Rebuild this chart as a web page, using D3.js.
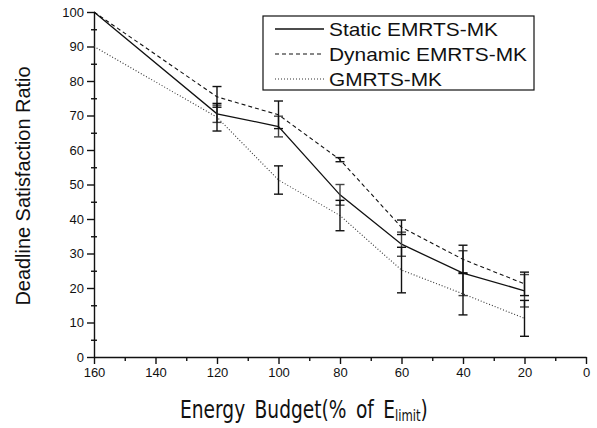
<!DOCTYPE html>
<html>
<head>
<meta charset="utf-8">
<script src="https://cdn.jsdelivr.net/npm/d3@7"></script>
<style>
  body { margin: 0; background: #fff; }
  svg { display: block; }
  .axis text { font-family: "Liberation Sans", Arial, sans-serif; font-size: 13px; fill: #111; }
  .axis path, .axis line { stroke: #111; stroke-width: 1.4px; }
</style>
</head>
<body>
<div id="chart"></div>
<script>
// energy budget (% of E_limit)
var budgets      = [160, 120, 100, 80, 60, 40, 20];
var staticVals   = [100, 70.5, 66.8, 47, 32.7, 24.3, 19.2];
var staticErr    = [0, 2.5, 3, 3, 3.5, 6.5, 4.7];
var dynamicVals  = [100, 75.4, 70.2, 57.2, 37.6, 28.3, 21.2];
var dynamicErr   = [0, 3, 4, 0.6, 2.1, 4.1, 3.4];
var gmrtsVals    = [90, 69.5, 51.3, 41, 25.2, 18.3, 11.2];
var gmrtsErr     = [0, 4, 4.1, 4.4, 6.6, 6.1, 5.2];
var seriesNames  = ["Static EMRTS-MK", "Dynamic EMRTS-MK", "GMRTS-MK"];
var xTicks       = [160, 140, 120, 100, 80, 60, 40, 20, 0];
var yTicks       = [0, 10, 20, 30, 40, 50, 60, 70, 80, 90, 100];

var W = 597, H = 428;
var margin = {top: 12, right: 11, bottom: 71, left: 94};
var width  = W - margin.left - margin.right;
var height = H - margin.top - margin.bottom;

var x = d3.scaleLinear().domain([160, 0]).range([0, width]);
var y = d3.scaleLinear().domain([0, 100]).range([height, 0]);

var series = [
  {name: seriesNames[0], vals: staticVals,  err: staticErr,  dash: null,  width: 1.3, color: "#111", errColor: "#444"},
  {name: seriesNames[1], vals: dynamicVals, err: dynamicErr, dash: "4,3", width: 1.1, color: "#111", errColor: "#111"},
  {name: seriesNames[2], vals: gmrtsVals,   err: gmrtsErr,   dash: "1,2", width: 1.1, color: "#333", errColor: "#111"}
];

var svg = d3.select("#chart").append("svg")
  .attr("width", W)
  .attr("height", H);

var g = svg.append("g")
  .attr("transform", "translate(" + margin.left + "," + margin.top + ")");

// minor ticks
g.append("g")
  .attr("class", "axis")
  .attr("transform", "translate(0," + height + ")")
  .call(d3.axisBottom(x).tickValues([150, 130, 110, 90, 70, 50, 30, 10]).tickSize(4).tickFormat(""))
  .select(".domain").remove();

g.append("g")
  .attr("class", "axis")
  .attr("transform", "translate(3,0)")
  .call(d3.axisLeft(y).tickValues([5, 15, 25, 35, 45, 55, 65, 75, 85, 95]).tickSize(6).tickFormat(""))
  .select(".domain").remove();

// main axes
g.append("g")
  .attr("class", "x axis")
  .attr("transform", "translate(0," + height + ")")
  .call(d3.axisBottom(x).tickValues(xTicks).tickSize(7).tickSizeOuter(0).tickPadding(4));

g.append("g")
  .attr("class", "y axis")
  .call(d3.axisLeft(y).tickValues(yTicks).tickSize(7).tickSizeOuter(0).tickPadding(3));

// lines
var line = d3.line()
  .x(function(d) { return x(d[0]); })
  .y(function(d) { return y(d[1]); });

series.forEach(function(s) {
  var pts = budgets.map(function(b, i) { return [b, s.vals[i]]; });
  g.append("path")
    .datum(pts)
    .attr("d", line)
    .attr("fill", "none")
    .attr("stroke", s.color)
    .attr("stroke-width", s.width)
    .attr("stroke-dasharray", s.dash);
});

// error bars
series.forEach(function(s) {
  var rows = budgets.map(function(b, i) { return {b: b, v: s.vals[i], e: s.err[i]}; })
    .filter(function(d) { return d.e > 0; });

  var eb = g.append("g").attr("stroke", s.errColor).attr("stroke-width", 1.4);

  eb.selectAll(".stem").data(rows).enter().append("line")
    .attr("x1", function(d) { return x(d.b); })
    .attr("x2", function(d) { return x(d.b); })
    .attr("y1", function(d) { return y(d.v - d.e); })
    .attr("y2", function(d) { return y(d.v + d.e); });

  [-1, 1].forEach(function(sign) {
    eb.selectAll(".cap" + sign).data(rows).enter().append("line")
      .attr("x1", function(d) { return x(d.b) - 4.5; })
      .attr("x2", function(d) { return x(d.b) + 4.5; })
      .attr("y1", function(d) { return y(d.v + sign * d.e); })
      .attr("y2", function(d) { return y(d.v + sign * d.e); });
  });
});

// legend
var lg = svg.append("g").attr("transform", "translate(263,16)");
lg.append("rect")
  .attr("width", 271).attr("height", 74)
  .attr("fill", "#fff").attr("stroke", "#111").attr("stroke-width", 1.2);

var legendWidths = [169, 198, 113];
series.forEach(function(s, i) {
  var ly = 13 + i * 25;
  lg.append("line")
    .attr("x1", 12).attr("x2", 61)
    .attr("y1", ly).attr("y2", ly)
    .attr("stroke", s.color)
    .attr("stroke-width", s.width)
    .attr("stroke-dasharray", s.dash);
  lg.append("text")
    .attr("x", 66).attr("y", ly + 7)
    .attr("textLength", legendWidths[i])
    .attr("lengthAdjust", "spacingAndGlyphs")
    .style("font-family", "'Liberation Sans', Arial, sans-serif")
    .style("font-size", "19px")
    .attr("fill", "#111")
    .text(s.name);
});

// axis titles
svg.append("text")
  .attr("transform", "translate(30,186) rotate(-90)")
  .attr("text-anchor", "middle")
  .attr("textLength", 239)
  .attr("lengthAdjust", "spacingAndGlyphs")
  .style("font-family", "'Liberation Sans', Arial, sans-serif")
  .style("font-size", "20px")
  .attr("fill", "#111")
  .text("Deadline Satisfaction Ratio");

// x title: tall narrow glyphs, squeezed to the reference width after measuring
var xt = svg.append("text")
  .style("font-family", "'DejaVu Sans Condensed', 'DejaVu Sans', sans-serif")
  .style("font-size", "24px")
  .style("word-spacing", "4px")
  .attr("fill", "#111");
xt.append("tspan").text("Energy Budget(% of E");
xt.append("tspan").attr("dy", 3).style("font-size", "15px").text("limit");
xt.append("tspan").attr("dy", -3).text(")");

var bw = xt.node().getBBox().width;
xt.attr("transform", "translate(180,418) scale(" + (248 / bw) + ",1)");
</script>
</body>
</html>
